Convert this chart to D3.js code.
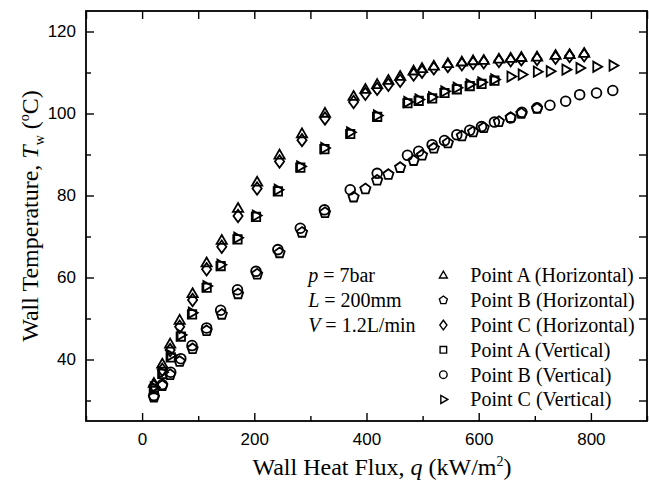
<!DOCTYPE html>
<html>
<head>
<meta charset="utf-8">
<script src="https://cdn.jsdelivr.net/npm/d3@7"></script>
<style>
  body { margin: 0; background: #fff; }
  .tick text { font-family: "Liberation Sans", Arial, sans-serif; font-size: 17px; fill: #000; }
  .tick line { stroke: #000; stroke-width: 1.4; }
  .domain { display: none; }
  .serif { font-family: "Liberation Serif", "Times New Roman", serif; fill: #000; }
</style>
</head>
<body>
<div id="chart"></div>
<script>
// heat flux values (kW/m2)
const qHorizontal = [21, 36, 50, 67, 90, 115, 142, 171, 205, 245, 285, 326, 377, 398, 419, 439, 460, 484, 499, 520, 545, 570, 590, 609, 636, 657, 676, 704, 737, 762, 788];
const qVertical = [21, 36, 51, 69, 89, 115, 140, 170, 203, 242, 282, 325, 371, 419, 473, 493, 517, 539, 561, 584, 605, 628, 657, 677, 704, 727, 755, 780, 810, 839];

// wall temperatures (degC)
const tempAHorizontal = [34.1, 38.8, 43.7, 49.5, 56, 63.5, 69, 76.8, 83.2, 89.8, 95, 100, 104.1, 105.8, 107, 108, 109, 110.3, 110.9, 111.5, 112.1, 112.5, 112.8, 112.9, 113.2, 113.4, 113.6, 113.7, 114.1, 114.3, 114.6];
const tempBHorizontal = [30.8, 33.6, 36.3, 39.5, 42.6, 47, 51, 56, 60.8, 66, 71, 75.8, 79.6, 81.6, 83.7, 85.1, 86.8, 88.5, 89.8, 91.5, 92.8, 94.5, 95.5, 96.5, 98, 99, 100, 101.2];
const tempCHorizontal = [33.5, 37.5, 42.3, 48, 54.5, 62, 67.5, 75, 81.7, 88.3, 93.5, 98.8, 102.8, 104.8, 106, 107, 108, 109.5, 110.2, 111, 111.6, 112, 112.3, 112.5, 112.8, 113, 113.2, 113.3, 113.6, 114, 114.2];
const tempAVertical = [32.8, 36.5, 40.5, 45.6, 51, 57.5, 62.8, 69.3, 74.8, 81, 86.8, 91.3, 95, 99.2, 102.5, 103.1, 103.7, 105, 105.9, 106.7, 107.2, 108];
const tempBVertical = [31.2, 33.9, 36.9, 40.2, 43.4, 47.7, 52, 57, 61.5, 66.8, 72, 76.5, 81.4, 85.4, 89.8, 90.8, 92.4, 93.4, 94.8, 95.9, 96.8, 97.9, 98.9, 100.3, 101.4, 102, 103, 104.6, 105, 105.6];
const tempCVertical = [33.2, 36.9, 41, 46, 51.4, 57.9, 63.1, 69.7, 75.1, 81.4, 87.1, 91.6, 95.4, 99.5, 102.8, 103.4, 104, 105.4, 106.3, 107.1, 107.6, 108.3, 109, 109.5, 110.2, 110.3, 110.7, 111.1, 111.4, 111.7];

const seriesNames = ['Point A (Horizontal)', 'Point B (Horizontal)', 'Point C (Horizontal)', 'Point A (Vertical)', 'Point B (Vertical)', 'Point C (Vertical)'];
const seriesShapes = ['triangle', 'pentagon', 'diamond', 'square', 'circle', 'rightTriangle'];

const xTicks = [0, 200, 400, 600, 800];
const xMinorTicks = [-100, 100, 300, 500, 700, 900];
const yTicks = [40, 60, 80, 100, 120];
const yMinorTicks = [30, 50, 70, 90, 110];

const series = [
  { q: qHorizontal, t: tempAHorizontal },
  { q: qHorizontal, t: tempBHorizontal },
  { q: qHorizontal, t: tempCHorizontal },
  { q: qVertical, t: tempAVertical },
  { q: qVertical, t: tempBVertical },
  { q: qVertical, t: tempCVertical },
].map((s, i) => ({
  name: seriesNames[i],
  shape: seriesShapes[i],
  points: s.t.map((t, j) => ({ q: s.q[j], t })),
}));

// marker path centred on 0,0
function shapePath(shape, r) {
  const poly = (pts) => 'M' + pts.map((p) => p.join(',')).join('L') + 'Z';
  switch (shape) {
    case 'triangle':
      return poly([[0, -r * 1.05], [r * 0.95, r * 0.6], [-r * 0.95, r * 0.6]]);
    case 'rightTriangle':
      return poly([[r * 1.05, 0], [-r * 0.6, -r * 0.95], [-r * 0.6, r * 0.95]]);
    case 'diamond':
      return poly([[0, -r * 1.15], [r * 0.85, 0], [0, r * 1.15], [-r * 0.85, 0]]);
    case 'square':
      return poly([[-r * 0.78, -r * 0.78], [r * 0.78, -r * 0.78], [r * 0.78, r * 0.78], [-r * 0.78, r * 0.78]]);
    case 'pentagon': {
      const pts = d3.range(5).map((k) => {
        const a = -Math.PI / 2 + k * 2 * Math.PI / 5;
        return [r * Math.cos(a), r * Math.sin(a)];
      });
      return poly(pts);
    }
    default: {
      const c = r * 0.9;
      return `M${c},0A${c},${c} 0 1,1 ${-c},0A${c},${c} 0 1,1 ${c},0Z`;
    }
  }
}

const width = 649;
const height = 486;
const margin = { top: 11, right: 2, bottom: 65, left: 86 };
const innerW = width - margin.left - margin.right;
const innerH = height - margin.top - margin.bottom;

const svg = d3.select('#chart').append('svg')
  .attr('width', width)
  .attr('height', height);

const g = svg.append('g')
  .attr('transform', `translate(${margin.left}, ${margin.top})`);

const x = d3.scaleLinear().domain([-100, 900]).range([0, innerW]);
const y = d3.scaleLinear().domain([25, 125]).range([innerH, 0]);

// axes, ticks pointing inward
g.append('g').attr('transform', `translate(0, ${innerH})`)
  .call(d3.axisBottom(x).tickValues(xTicks).tickSize(-8).tickPadding(12));
g.append('g').attr('transform', `translate(0, ${innerH})`)
  .call(d3.axisBottom(x).tickValues(xMinorTicks).tickSize(-5).tickFormat(''));
g.append('g')
  .call(d3.axisTop(x).tickValues(xTicks.concat(xMinorTicks)).tickSize(-8).tickFormat(''));
g.append('g')
  .call(d3.axisLeft(y).tickValues(yTicks).tickSize(-8).tickPadding(10));
g.append('g')
  .call(d3.axisLeft(y).tickValues(yMinorTicks).tickSize(-5).tickFormat(''));
g.append('g').attr('transform', `translate(${innerW}, 0)`)
  .call(d3.axisRight(y).tickValues(yTicks.concat(yMinorTicks)).tickSize(-8).tickFormat(''));

g.append('rect')
  .attr('width', innerW)
  .attr('height', innerH)
  .attr('fill', 'none')
  .attr('stroke', '#000')
  .attr('stroke-width', 1.8);

// markers
series.forEach((s) => {
  g.append('g').selectAll('path')
    .data(s.points)
    .enter().append('path')
    .attr('transform', (d) => `translate(${x(d.q)}, ${y(d.t)})`)
    .attr('d', shapePath(s.shape, 5.4))
    .attr('fill', 'none')
    .attr('stroke', '#000')
    .attr('stroke-width', 1.8);
});

// legend
const rowGap = 24.8;
const legend = g.append('g').attr('transform', `translate(${x(537)}, ${y(60.5)})`);
series.forEach((s, i) => {
  const row = legend.append('g').attr('transform', `translate(0, ${i * rowGap})`);
  row.append('path')
    .attr('d', shapePath(s.shape, 4.2))
    .attr('fill', 'none')
    .attr('stroke', '#000')
    .attr('stroke-width', 1.4);
  row.append('text')
    .attr('class', 'serif')
    .attr('x', 27)
    .attr('dy', '0.35em')
    .style('font-size', '20px')
    .text(s.name);
});

// condition notes
const notes = [
  ['p', ' = 7bar'],
  ['L', ' = 200mm'],
  ['V', ' = 1.2L/min'],
];
const noteGroup = g.append('g').attr('transform', `translate(${x(296)}, ${y(60.5)})`);
notes.forEach((n, i) => {
  const t = noteGroup.append('text')
    .attr('class', 'serif')
    .attr('y', i * rowGap)
    .attr('dy', '0.35em')
    .style('font-size', '20px');
  t.append('tspan').style('font-style', 'italic').text(n[0]);
  t.append('tspan').text(n[1]);
});

// axis titles
const xTitle = svg.append('text')
  .attr('class', 'serif')
  .attr('x', 382)
  .attr('y', 475)
  .attr('text-anchor', 'middle')
  .style('font-size', '24px');
xTitle.append('tspan').text('Wall Heat Flux, ');
xTitle.append('tspan').style('font-style', 'italic').text('q');
xTitle.append('tspan').text(' (kW/m');
xTitle.append('tspan').attr('dy', -9).style('font-size', '14px').text('2');
xTitle.append('tspan').attr('dy', 9).text(')');

const yTitle = svg.append('text')
  .attr('class', 'serif')
  .attr('transform', `translate(38, ${margin.top + innerH / 2}) rotate(-90)`)
  .attr('text-anchor', 'middle')
  .style('font-size', '24px');
yTitle.append('tspan').text('Wall Temperature, ');
yTitle.append('tspan').style('font-style', 'italic').text('T');
yTitle.append('tspan').attr('dy', 6).style('font-size', '14px').text('w');
yTitle.append('tspan').attr('dy', -6).text(' (');
yTitle.append('tspan').attr('dy', -9).style('font-size', '14px').text('o');
yTitle.append('tspan').attr('dy', 9).text('C)');
</script>
</body>
</html>
